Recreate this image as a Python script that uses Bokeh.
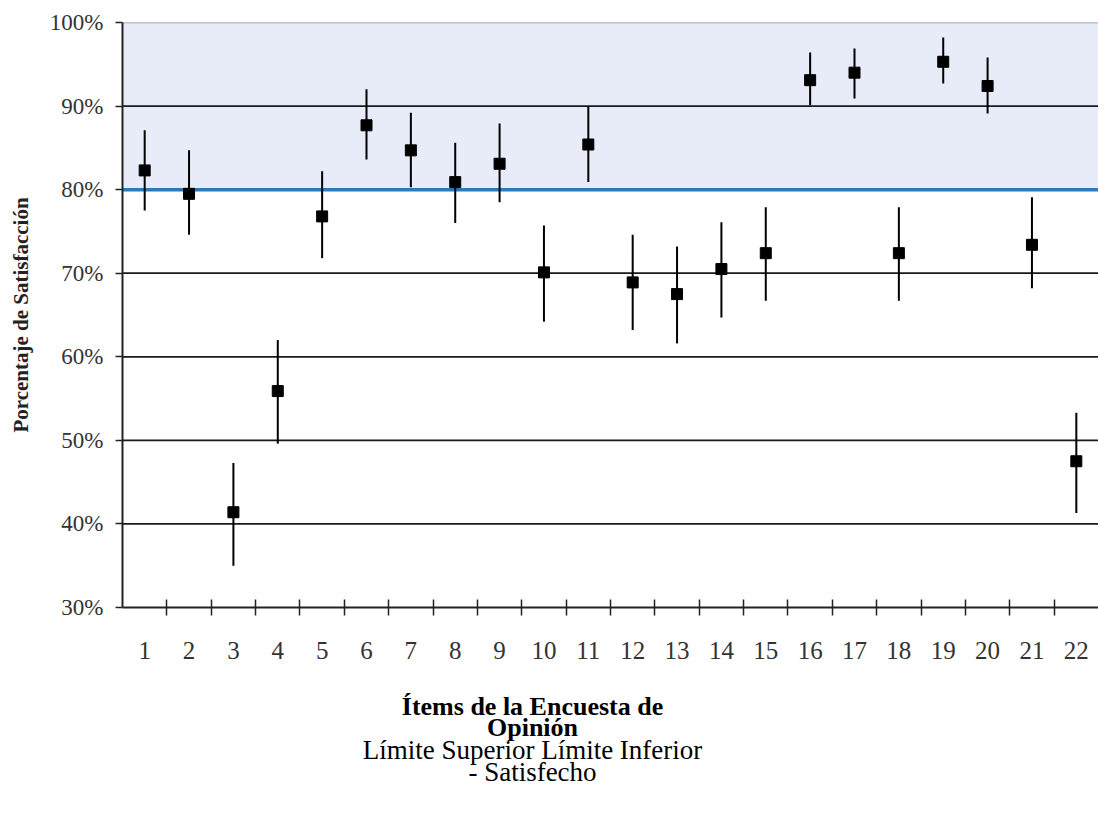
from bokeh.plotting import figure
from bokeh.layouts import column
from bokeh.models import (Range1d, FixedTicker, PrintfTickFormatter, BoxAnnotation, Span)
from bokeh.core.properties import value
from bokeh.embed import file_html
from bokeh.resources import INLINE

items = list(range(1, 23))
satisfecho = [82.3, 79.5, 41.4, 55.9, 76.8, 87.7, 84.7, 80.9, 83.1, 70.1, 85.4,
              68.9, 67.5, 70.5, 72.4, 93.1, 94.0, 72.4, 95.3, 92.4, 73.4, 47.5]
limite_superior = [87.1, 84.7, 47.3, 62.0, 82.2, 92.0, 89.2, 85.6, 87.9, 75.7, 90.0,
                   74.6, 73.2, 76.1, 77.9, 96.4, 96.9, 77.9, 98.2, 95.8, 79.1, 53.3]
limite_inferior = [77.5, 74.6, 35.0, 49.6, 71.8, 83.6, 80.3, 76.0, 78.5, 64.2, 80.9,
                   63.2, 61.6, 64.7, 66.7, 90.1, 90.9, 66.7, 92.7, 89.1, 68.2, 41.3]
y_ticks = [30, 40, 50, 60, 70, 80, 90, 100]
grid_black = [40, 50, 60, 70, 90]
meta = 80

footer_bold = ["Ítems de la Encuesta de", "Opinión"]
footer_normal = ["Límite Superior Límite Inferior", "- Satisfecho"]
footer_bold_y = [34, 55]      # px from top of footer strip
footer_normal_y = [77, 99]
footer_center_x = 532         # px from left of page

TICK_FONT = "Liberation Serif"
W = 1098
LEFT = 122
p = figure(width=W, height=672, output_backend="svg", toolbar_location=None,
           x_range=Range1d(0.5, 22.5), y_range=Range1d(30, 100),
           min_border_left=LEFT, min_border_top=22, min_border_right=0,
           min_border_bottom=65)
p.outline_line_color = None
p.xgrid.visible = False
p.ygrid.visible = False
p.background_fill_color = "white"

box = BoxAnnotation(bottom=meta, top=100, fill_color="#e8ecf9", fill_alpha=1.0,
                    line_color=None, level="image")
p.add_layout(box)
for g in grid_black:
    p.add_layout(Span(location=g, dimension="width", line_color="#1a1a1a",
                      line_width=1.8, level="underlay"))
p.add_layout(Span(location=100, dimension="width", line_color="#8c8c8c",
                  line_width=1.6, level="underlay"))
p.add_layout(Span(location=meta, dimension="width", line_color="#2b7bb9",
                  line_width=3.5, level="underlay"))

p.segment(x0=items, y0=limite_inferior, x1=items, y1=limite_superior,
          line_color="black", line_width=2)
p.scatter(x=items, y=satisfecho, marker="square", size=11, fill_color="black",
          line_color="black")

# y axis
p.yaxis.ticker = FixedTicker(ticks=y_ticks)
p.yaxis.formatter = PrintfTickFormatter(format="%d%%")
p.yaxis.axis_line_color = "#222222"
p.yaxis.axis_line_width = 2
p.yaxis.major_tick_line_color = "#222222"
p.yaxis.major_tick_line_width = 1.5
p.yaxis.major_tick_out = 7
p.yaxis.major_tick_in = 0
p.yaxis.minor_tick_line_color = None
p.yaxis.major_label_text_font = TICK_FONT
p.yaxis.major_label_text_font_size = "23px"
p.yaxis.major_label_text_color = "#333333"
p.yaxis.major_label_standoff = 12
p.yaxis.axis_label = "Porcentaje de Satisfacción"
p.yaxis.axis_label_text_font = "Liberation Serif"
p.yaxis.axis_label_text_font_style = "bold"
p.yaxis.axis_label_text_font_size = "21px"
p.yaxis.axis_label_text_color = "#222222"
p.yaxis.axis_label_standoff = 14

# x axis
p.xaxis.ticker = FixedTicker(ticks=items, minor_ticks=[i + 0.5 for i in items[:-1]])
p.xaxis.axis_line_color = "#222222"
p.xaxis.axis_line_width = 2
p.xaxis.major_tick_line_color = None
p.xaxis.major_tick_out = 0
p.xaxis.major_tick_in = 0
p.xaxis.minor_tick_line_color = "#222222"
p.xaxis.minor_tick_line_width = 1.5
p.xaxis.minor_tick_in = 8
p.xaxis.minor_tick_out = 8
p.xaxis.major_label_text_font = TICK_FONT
p.xaxis.major_label_text_font_size = "25px"
p.xaxis.major_label_text_color = "#333333"
p.xaxis.major_label_standoff = 26

# footer strip with the caption text (frame aligned with the main plot frame)
FH = 138
f = figure(width=W, height=FH, output_backend="svg", toolbar_location=None,
           x_range=Range1d(LEFT, W), y_range=Range1d(FH, 0),
           x_axis_location=None, y_axis_location=None,
           min_border_left=LEFT, min_border_right=0,
           min_border_top=0, min_border_bottom=0)
f.outline_line_color = None
f.xgrid.visible = False
f.ygrid.visible = False
f.text(x=[footer_center_x] * len(footer_bold), y=footer_bold_y, text=footer_bold,
       text_align="center", text_baseline="middle",
       text_font=value("Liberation Serif"), text_font_style="bold",
       text_font_size="26px", text_color="black")
f.text(x=[footer_center_x] * len(footer_normal), y=footer_normal_y, text=footer_normal,
       text_align="center", text_baseline="middle",
       text_font=value("Liberation Serif"), text_font_style="normal",
       text_font_size="27px", text_color="black")

open("out.html", "w").write(file_html(column(p, f, spacing=0), INLINE))
